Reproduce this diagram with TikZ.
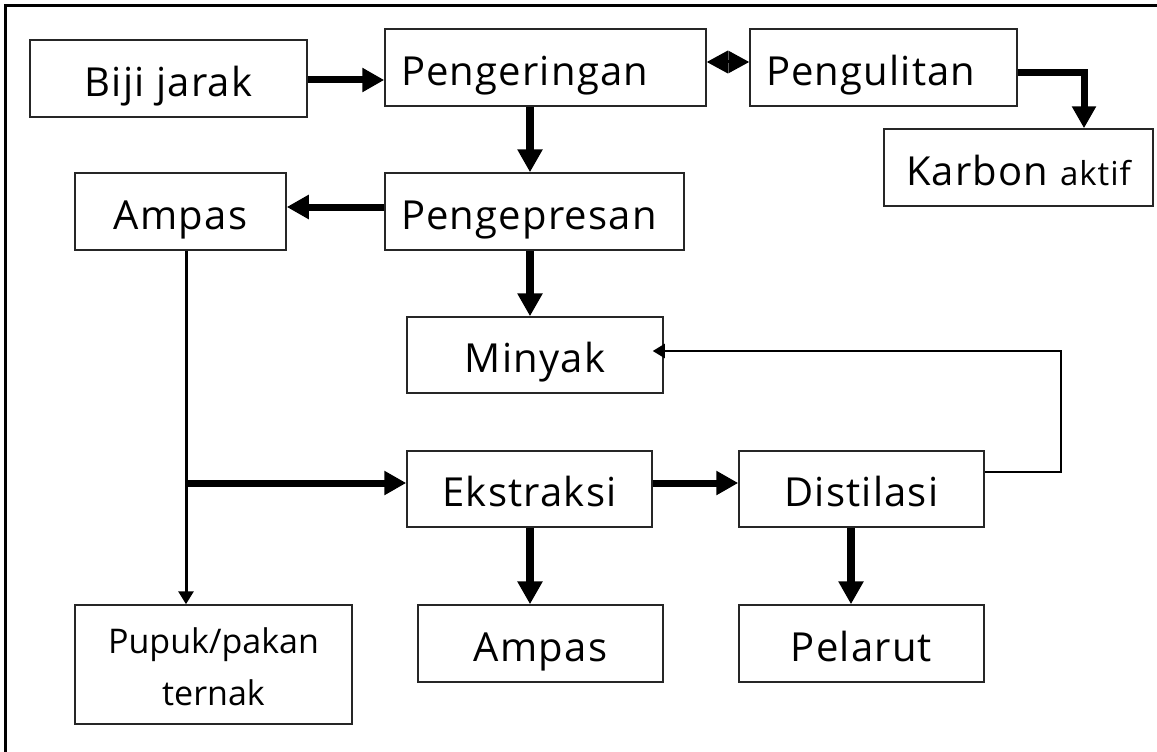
\documentclass[tikz,border=0pt]{standalone}
\usepackage{fontspec}
\setmainfont{Open Sans}
\usetikzlibrary{arrows.meta}
\begin{document}
\begin{tikzpicture}[x=1pt,y=-1pt,
  box/.style={draw=black!85, line width=1.5pt, inner sep=0pt, align=center,
    text height=35pt, text depth=0pt,
    font=\fontsize{40}{48}\selectfont\addfontfeature{LetterSpace=3}},
  lbox/.style={box, align=left, inner xsep=16pt},
  big/.style={line width=8pt, -{Triangle[length=23pt,width=24pt]}},
  bigside/.style={line width=7pt, -{Triangle[length=22pt,width=23pt]}},
  half/.style={line width=3pt, -{Triangle[length=21pt,width=22pt]}},
  thin/.style={line width=3pt, -{Triangle[length=13pt,width=15pt]}},
  fine/.style={line width=2pt, -{Triangle[length=12pt,width=14pt]}},
  frame/.style={line width=3pt}]
\useasboundingbox (0,0) rectangle (1157,752);
\fill[white] (0,0) rectangle (1157,752);
% frame (top and left sides visible)
\coordinate (fTL) at (5,6);
\coordinate (fBL) at (5,752);
\coordinate (fTR) at (1157,6);
\draw[frame] (fBL) -- (fTL) -- (fTR);

% boxes
\node[box, minimum width=277pt, minimum height=77pt] (biji) at (168.5,78.5) {Biji jarak};
\node[lbox, text width=289pt, minimum height=77pt] (pengering) at (545.5,67.5) {Pengeringan};
\node[lbox, text width=235pt, minimum height=77pt] (pengulit) at (883.5,67.5) {Pengulitan};
\node[box, minimum width=269pt, minimum height=77pt] (karbon) at (1018.5,167.5) {Karbon {\fontsize{33}{38}\selectfont aktif}};
\node[box, minimum width=211pt, minimum height=77pt] (ampas1) at (180.5,211.5) {Ampas};
\node[lbox, text width=267pt, minimum height=77pt] (pengepres) at (534.5,211.5) {Pengepresan};
\node[box, minimum width=256pt, minimum height=76pt] (minyak) at (535,355) {Minyak};
\node[box, minimum width=245pt, minimum height=76pt] (ekstrak) at (529.5,489) {Ekstraksi};
\node[box, minimum width=245pt, minimum height=76pt] (distil) at (861.5,489) {Distilasi};
\node[box, minimum width=277pt, minimum height=119pt, text height=81pt,
  font=\fontsize{34}{52}\selectfont] (pupuk) at (213.5,664.5) {Pupuk/pakan\\ternak};
\node[box, minimum width=245pt, minimum height=77pt] (ampas2) at (540.5,643.5) {Ampas};
\node[box, minimum width=245pt, minimum height=77pt] (pelarut) at (861.5,643.5) {Pelarut};

% helper coordinates
\coordinate (colA) at (530,0);
\coordinate (colB) at (186,0);
\coordinate (colC) at (851,0);
\coordinate (kcol) at (1084,0);
\coordinate (fbx) at (1061,0);
\coordinate (rowB) at (0,80);
\coordinate (rowK) at (0,73);
\coordinate (rowP) at (0,207);
\coordinate (rowE) at (0,483);
\coordinate (fb1) at (0,472);
\coordinate (fb2) at (0,351);
\coordinate (dmid) at (728,62);

% connectors
\draw[bigside] (biji.east |- rowB) -- (pengering.west |- rowB);
\draw[half] (dmid) -- (pengering.east |- dmid);
\draw[half] (dmid) -- (pengulit.west |- dmid);
\draw[line width=7pt, -{Triangle[length=22pt,width=23pt]}] (pengulit.east |- rowK) -| (karbon.north -| kcol);
\draw[big] (pengering.south -| colA) -- (pengepres.north -| colA);
\draw[bigside] (pengepres.west |- rowP) -- (ampas1.east |- rowP);
\draw[big] (pengepres.south -| colA) -- (minyak.north -| colA);
\draw[thin] (ampas1.south -| colB) -- (pupuk.north -| colB);
\draw[bigside] (colB |- rowE) -- (ekstrak.west |- rowE);
\draw[bigside] (ekstrak.east |- rowE) -- (distil.west |- rowE);
\draw[big] (ekstrak.south -| colA) -- (ampas2.north -| colA);
\draw[big] (distil.south -| colC) -- (pelarut.north -| colC);
\draw[fine, shorten >=-11pt] (distil.east |- fb1) -| (fbx |- fb2) -- (minyak.east |- fb2);
\end{tikzpicture}
\end{document}
